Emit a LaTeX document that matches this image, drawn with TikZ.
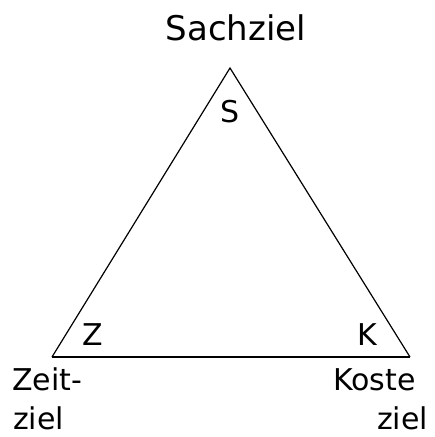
\documentclass[tikz,border=0pt]{standalone}
\usepackage{fontspec}
\setmainfont{DejaVu Sans}
\begin{document}
\begin{tikzpicture}[x=1pt,y=-1pt,
  lbl/.style={inner sep=0pt,font=\fontsize{30}{32}\selectfont},
  side/.style={line width=1.2pt,line join=miter},
  base/.style={line width=2.6pt}]
\useasboundingbox (0,0) rectangle (435,437);
\coordinate (top) at (230,68);
\coordinate (left) at (52,357);
\coordinate (right) at (410,357);
\draw[side] (left) -- (top) -- (right);
\draw[base] (left) -- (right);
\node[lbl,font=\fontsize{34}{36}\selectfont,anchor=base] (sach) at (236,40) {Sachziel};
\node[lbl,anchor=base] (s) at (230,122) {S};
\node[lbl,anchor=base] (z) at (93,345) {Z};
\node[lbl,anchor=base] (k) at (367,345) {K};
\node[lbl,anchor=base west] (zeit) at (12,390) {Zeit-};
\node[lbl,anchor=base west] (ziel1) at (13,429) {ziel};
\node[lbl,anchor=base west] (kost) at (333,390) {Koste};
\node[lbl,anchor=base west] (ziel2) at (377,429) {ziel};
\end{tikzpicture}
\end{document}
